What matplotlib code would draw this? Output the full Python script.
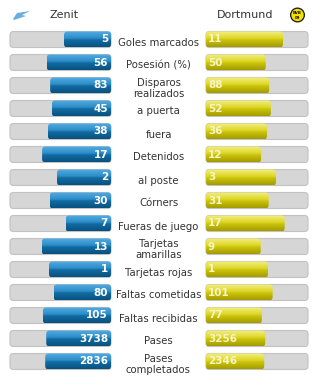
import numpy as np
import matplotlib.pyplot as plt
from matplotlib.patches import FancyBboxPatch, Circle, Polygon

# ──────────────────────────────────────────────
# Data
# ──────────────────────────────────────────────
TEAM_LEFT = "Zenit"
TEAM_RIGHT = "Dortmund"

stats = [
    "Goles marcados", "Posesión (%)", "Disparos\nrealizados", "a puerta",
    "fuera", "Detenidos", "al poste", "Córners", "Fueras de juego",
    "Tarjetas\namarillas", "Tarjetas rojas", "Faltas cometidas",
    "Faltas recibidas", "Pases", "Pases\ncompletados",
]
zenit = [5, 56, 83, 45, 38, 17, 2, 30, 7, 13, 1, 80, 105, 3738, 2836]
dortmund = [11, 50, 88, 52, 36, 12, 3, 31, 17, 9, 1, 101, 77, 3256, 2346]

# ──────────────────────────────────────────────
# Layout (pixel units, figure is 317 x 378)
# ──────────────────────────────────────────────
W, H = 317, 378
LEFT_X0, LEFT_X1 = 10, 111      # grey track, left side
RIGHT_X0, RIGHT_X1 = 206, 308   # grey track, right side
TOTAL = 124                     # combined bar length of both sides
MIN_LEN = 22                    # minimum bar length
ROW0, ROW_STEP = 39.5, 23
BAR_H = 16

# glossy gradients: stops at 0, 0.45, 0.55, 1 (top -> bottom)
STOPS = [0, 0.45, 0.55, 1]
blue_grad = np.array([[0.33, 0.67, 0.89], [0.17, 0.55, 0.78],
                      [0.07, 0.42, 0.64], [0.03, 0.32, 0.50]])
yellow_grad = np.array([[0.95, 0.94, 0.52], [0.87, 0.84, 0.15],
                        [0.80, 0.77, 0.05], [0.64, 0.61, 0.00]])


def gradient_img(cols):
    t = np.linspace(0, 1, 48)
    img = np.zeros((48, 1, 3))
    for c in range(3):
        img[:, 0, c] = np.interp(t, STOPS, cols[:, c])
    return img


def rounded(ax, x, y, w, h, **kw):
    p = FancyBboxPatch((x, y), w, h, boxstyle="round,pad=0,rounding_size=3.5", **kw)
    ax.add_patch(p)
    return p


def grad_bar(ax, x, y, w, h, cols):
    p = rounded(ax, x, y, w, h, facecolor="none", edgecolor="none")
    im = ax.imshow(gradient_img(cols), extent=(x, x + w, y + h, y), aspect="auto",
                   interpolation="bilinear", zorder=2)
    im.set_clip_path(p)


fig = plt.figure(figsize=(W / 100, H / 100), dpi=100)
ax = fig.add_axes([0, 0, 1, 1])
ax.set_xlim(0, W)
ax.set_ylim(H, 0)
ax.axis("off")

# header
ax.text(64, 15.5, TEAM_LEFT, ha="center", va="center", fontsize=8, color="#333333")
ax.text(245, 15.5, TEAM_RIGHT, ha="center", va="center", fontsize=8, color="#333333")
ax.add_patch(Polygon([(13, 19), (17, 13), (30, 11), (22, 15), (26, 16), (14, 20)],
                     closed=True, facecolor="#6aaee0", edgecolor="none"))
ax.add_patch(Circle((297.5, 15), 7.5, facecolor="#1a1a1a", edgecolor="none"))
ax.add_patch(Circle((297.5, 15), 6.2, facecolor="#f2e000", edgecolor="none"))
ax.text(297.5, 13, "BVB", ha="center", va="center", fontsize=2.8,
        fontweight="bold", color="#111111")
ax.text(297.5, 18, "09", ha="center", va="center", fontsize=2.8,
        fontweight="bold", color="#111111")

for i, (label, a, b) in enumerate(zip(stats, zenit, dortmund)):
    yc = ROW0 + i * ROW_STEP
    y0 = yc - BAR_H / 2

    # grey tracks
    for x0, x1 in [(LEFT_X0, LEFT_X1), (RIGHT_X0, RIGHT_X1)]:
        rounded(ax, x0, y0, x1 - x0, BAR_H, facecolor="#d6d6d6",
                edgecolor="#c2c2c2", linewidth=0.8, zorder=1)

    share = a / (a + b)
    len_a = MIN_LEN + share * (TOTAL - 2 * MIN_LEN)
    len_b = TOTAL - len_a

    grad_bar(ax, LEFT_X1 - len_a, y0, len_a, BAR_H, blue_grad)
    grad_bar(ax, RIGHT_X0, y0, len_b, BAR_H, yellow_grad)

    ax.text(LEFT_X1 - 3, yc, str(a), ha="right", va="center", fontsize=7.5,
            fontweight="bold", color="white", zorder=3)
    ax.text(RIGHT_X0 + 2, yc, str(b), ha="left", va="center", fontsize=7.5,
            fontweight="bold", color="#f6f4c8", zorder=3)

    ax.text(158.5, yc + 3, label, ha="center", va="center", fontsize=7.3,
            color="#333333", linespacing=1.05)

fig.savefig("out.png", dpi=100)
